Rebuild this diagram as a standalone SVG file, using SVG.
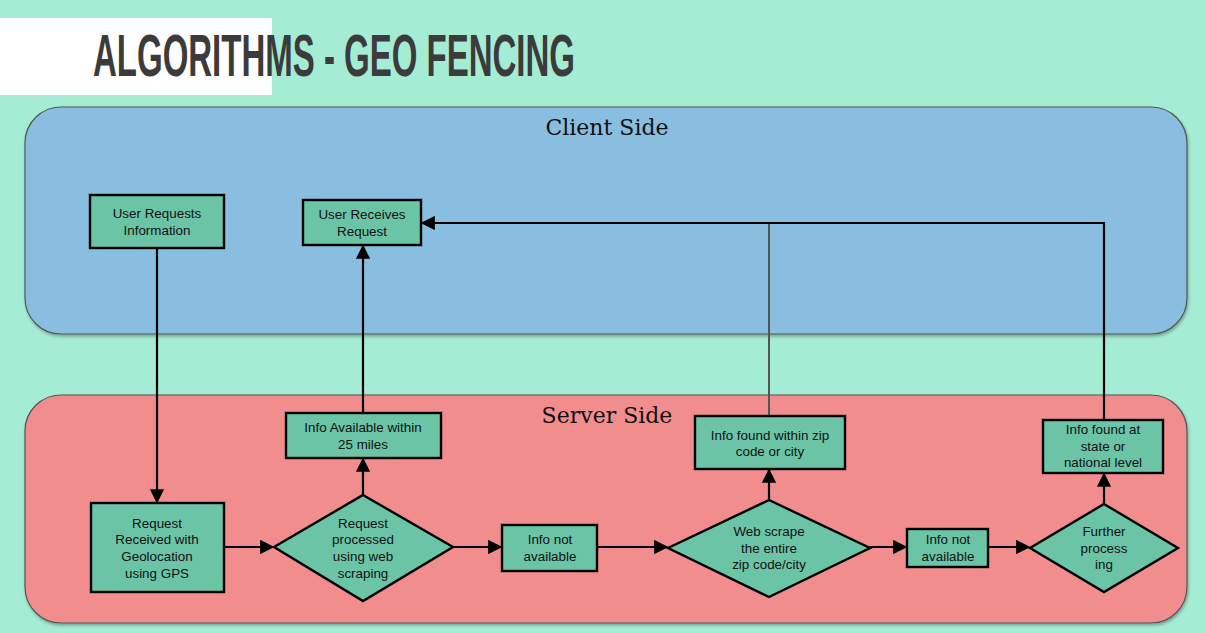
<svg xmlns="http://www.w3.org/2000/svg" width="1205" height="633" viewBox="0 0 1205 633">
<style>
.node{fill:#6bc4a6;stroke:#000;stroke-width:2.4}
.t{font-family:"Liberation Sans",Arial,sans-serif;font-size:13.4px;fill:#111;text-anchor:middle}
.lane{stroke:#555;stroke-width:1.2}
.lt{font-family:"DejaVu Serif","Liberation Serif",serif;font-size:22px;fill:#111;text-anchor:middle}
.c{fill:none;stroke:#000;stroke-width:2.2}
</style>
<defs>
<marker id="ah" viewBox="0 0 10 10" refX="9" refY="5" markerWidth="7" markerHeight="6.5" orient="auto" markerUnits="strokeWidth"><path d="M0,0 L10,5 L0,10 z" fill="#000"/></marker>
<filter id="sh" x="-5%" y="-5%" width="110%" height="115%"><feDropShadow dx="1" dy="2" stdDeviation="1.5" flood-color="#000" flood-opacity="0.3"/></filter>
</defs>
<rect width="1205" height="633" fill="#a5ecd4"/>
<rect x="0" y="18" width="272" height="77" fill="#fff"/>
<text x="93" y="76" font-family="Liberation Sans,Arial,sans-serif" font-weight="bold" font-size="59" fill="#3b3b3b" textLength="482" lengthAdjust="spacingAndGlyphs">ALGORITHMS - GEO FENCING</text>
<g id="client-lane"><rect class="lane" x="25" y="107" width="1162" height="227" rx="36" fill="#89bee1" filter="url(#sh)"/><text class="lt" x="607" y="135">Client Side</text></g>
<g id="server-lane"><rect class="lane" x="25" y="395" width="1162" height="228" rx="36" fill="#f28d8e" filter="url(#sh)"/><text class="lt" x="607" y="423">Server Side</text></g>
<g id="connectors">
<line class="c" x1="157" y1="248" x2="157" y2="502" marker-end="url(#ah)"/>
<line class="c" x1="224" y1="547" x2="273" y2="547" marker-end="url(#ah)"/>
<line class="c" x1="363" y1="495" x2="363" y2="459" marker-end="url(#ah)"/>
<line class="c" x1="363" y1="413" x2="363" y2="246" marker-end="url(#ah)"/>
<line class="c" x1="453" y1="547" x2="501" y2="547" marker-end="url(#ah)"/>
<line class="c" x1="597" y1="547" x2="667" y2="547" marker-end="url(#ah)"/>
<line class="c" x1="769" y1="500" x2="769" y2="470" marker-end="url(#ah)"/>
<line x1="769" y1="416" x2="769" y2="224" stroke="#555" stroke-width="2"/>
<line class="c" x1="870" y1="547" x2="906" y2="547" marker-end="url(#ah)"/>
<line class="c" x1="988" y1="547" x2="1029" y2="547" marker-end="url(#ah)"/>
<line class="c" x1="1104" y1="504" x2="1104" y2="474" marker-end="url(#ah)"/>
<polyline class="c" points="1104,420 1104,223 422,223" marker-end="url(#ah)"/>
</g>
<g id="user-requests"><rect class="node" x="90" y="195" width="134" height="53"/><text class="t" x="157" y="218">User Requests</text><text class="t" x="157" y="235">Information</text></g>
<g id="user-receives"><rect class="node" x="303" y="200" width="118" height="45"/><text class="t" x="362" y="219">User Receives</text><text class="t" x="362" y="236">Request</text></g>
<g id="request-received"><rect class="node" x="91" y="503" width="133" height="89"/><text class="t" x="157" y="528">Request</text><text class="t" x="157" y="544">Received with</text><text class="t" x="157" y="561">Geolocation</text><text class="t" x="157" y="578">using GPS</text></g>
<g id="request-processed"><polygon class="node" points="363,495 453,547 363,601 274,547"/><text class="t" x="363" y="528">Request</text><text class="t" x="363" y="544">processed</text><text class="t" x="363" y="561">using web</text><text class="t" x="363" y="578">scraping</text></g>
<g id="info-25"><rect class="node" x="286" y="413" width="155" height="45"/><text class="t" x="363" y="432">Info Available within</text><text class="t" x="363" y="449">25  miles</text></g>
<g id="info-na-1"><rect class="node" x="502" y="525" width="95" height="46"/><text class="t" x="550" y="544">Info not</text><text class="t" x="550" y="561">available</text></g>
<g id="web-scrape"><polygon class="node" points="769,500 870,548 769,597 668,548"/><text class="t" x="769" y="536">Web scrape</text><text class="t" x="769" y="553">the entire</text><text class="t" x="769" y="569">zip code/city</text></g>
<g id="info-zip"><rect class="node" x="695" y="416" width="150" height="53"/><text class="t" x="770" y="440">Info found within zip</text><text class="t" x="770" y="456">code or city</text></g>
<g id="info-na-2"><rect class="node" x="907" y="529" width="81" height="38"/><text class="t" x="948" y="544">Info not</text><text class="t" x="948" y="561">available</text></g>
<g id="further"><polygon class="node" points="1104,504 1178,548 1104,592 1030,548"/><text class="t" x="1104" y="536">Further</text><text class="t" x="1104" y="553">process</text><text class="t" x="1104" y="569">ing</text></g>
<g id="info-state"><rect class="node" x="1043" y="420" width="120" height="53"/><text class="t" x="1103" y="434">Info found at</text><text class="t" x="1103" y="451">state or</text><text class="t" x="1103" y="467">national level</text></g>
</svg>
